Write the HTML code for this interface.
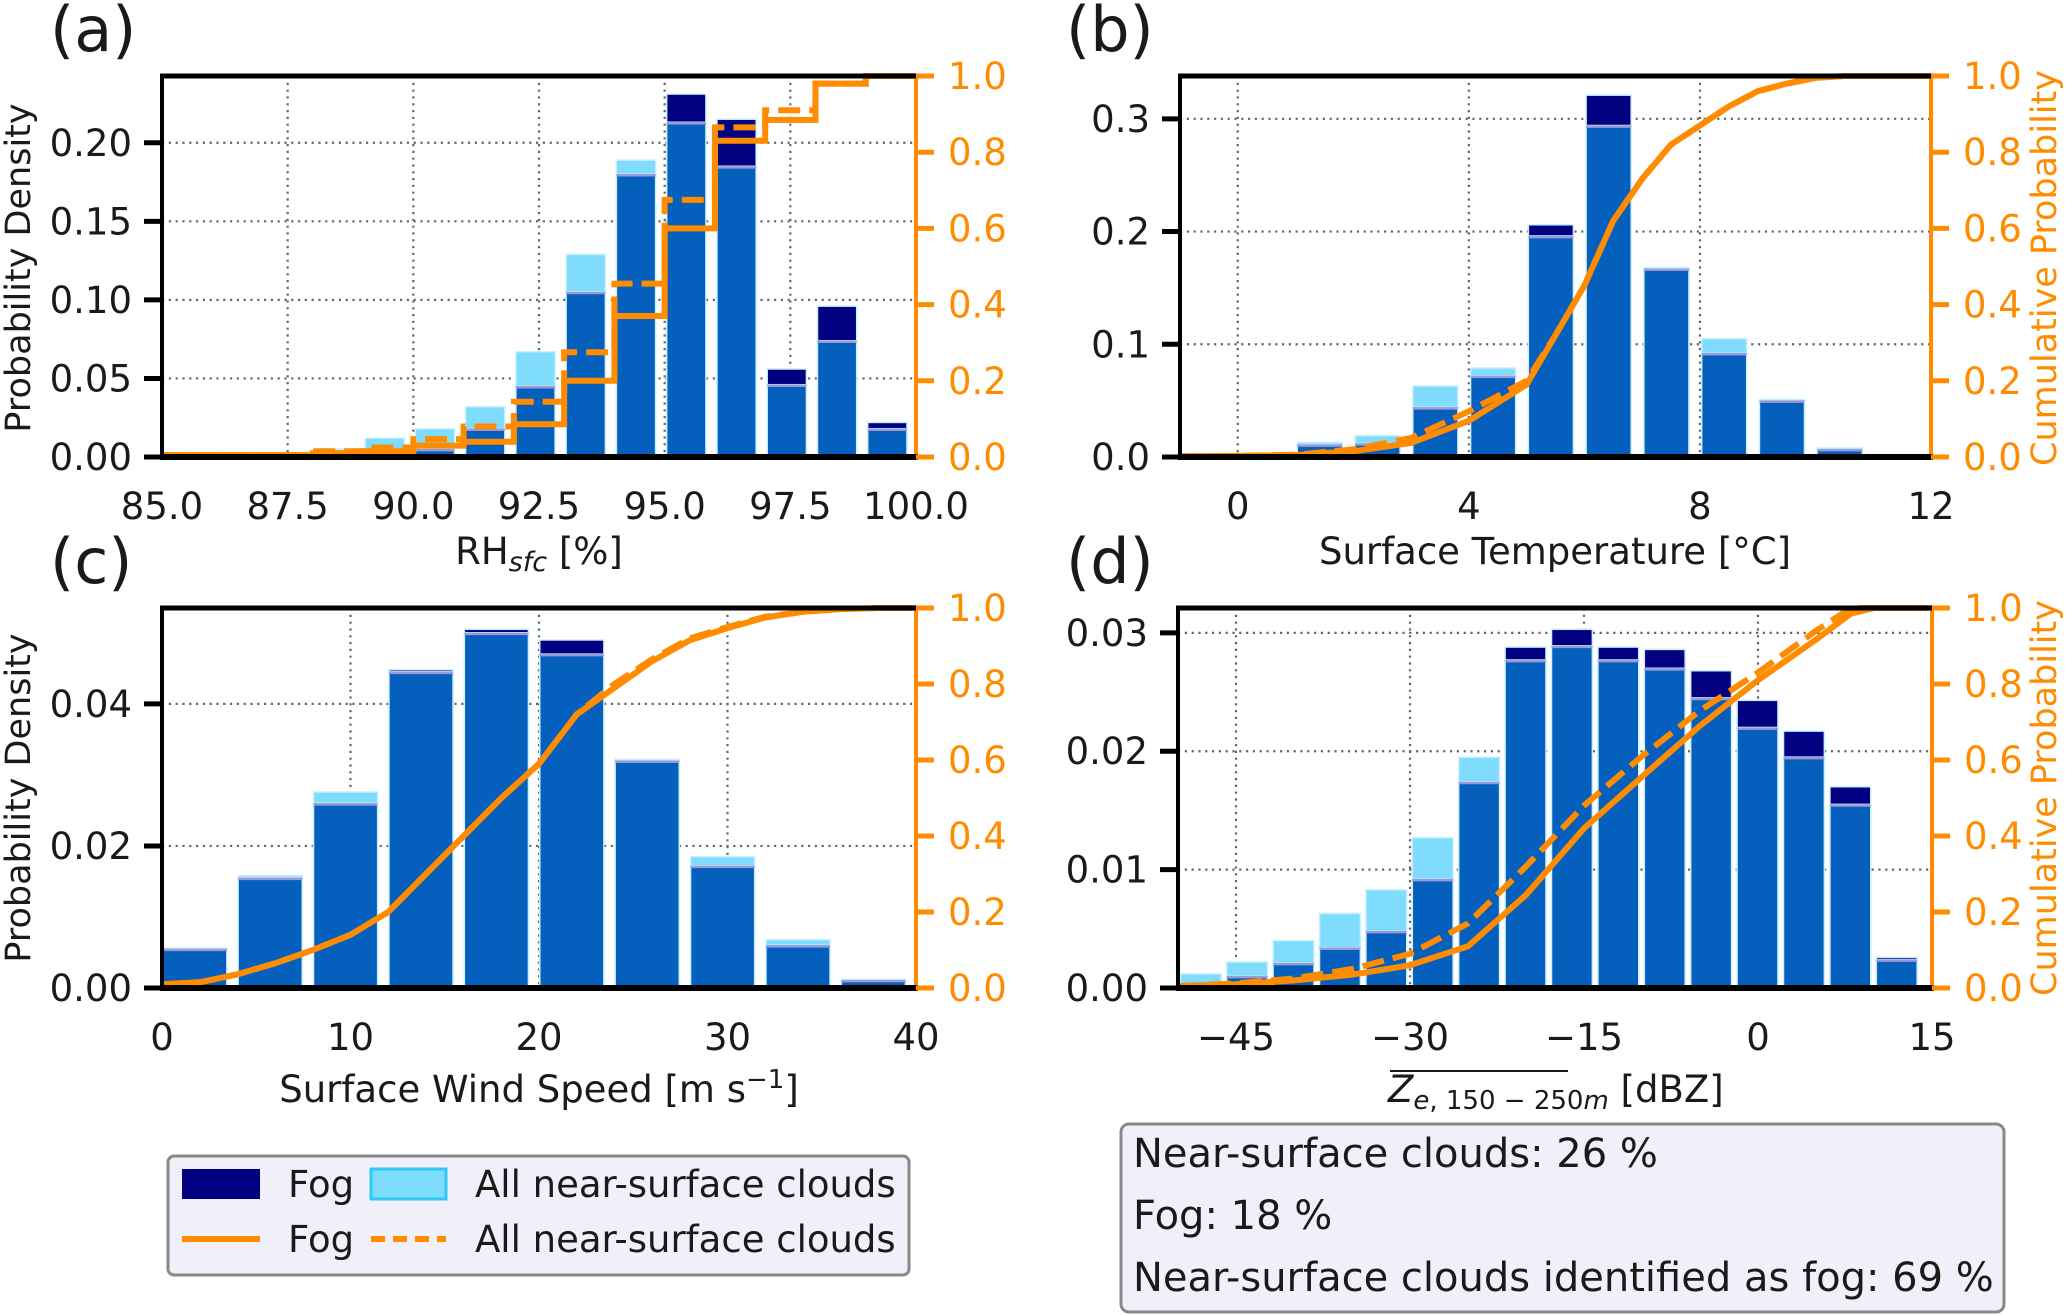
<!DOCTYPE html>
<html><head><meta charset="utf-8"><style>
html,body{margin:0;padding:0;background:#fff;}
svg{display:block;font-family:"DejaVu Sans","Liberation Sans",sans-serif;}
</style></head><body>
<svg id="fig" width="2067" height="1315" viewBox="0 0 2067 1315" xmlns="http://www.w3.org/2000/svg"></svg>
<script>
// ---- Panel (a): RH_sfc ----
const aBins = [88,89,90,91,92,93,94,95,96,97,98,99];
const aFog = [0.003,0.003,0.005,0.018,0.045,0.105,0.180,0.231,0.215,0.056,0.096,0.022];
const aAll = [0.005,0.012,0.018,0.032,0.067,0.129,0.189,0.213,0.185,0.046,0.074,0.018];
const aCdfX = [85,88,89,90,91,92,93,94,95,96,97,98,99,100];
const aCdfFog = [0.005,0.01,0.015,0.03,0.04,0.086,0.2,0.37,0.6,0.83,0.885,0.98,1.0,1.0];
const aCdfAll = [0.005,0.015,0.025,0.047,0.08,0.145,0.275,0.455,0.675,0.865,0.91,0.98,1.0,1.0];
const aXTicks = ["85.0","87.5","90.0","92.5","95.0","97.5","100.0"];
const aYTicks = ["0.00","0.05","0.10","0.15","0.20"];
// ---- Panel (b): Surface temperature ----
const bBins = [1,2,3,4,5,6,7,8,9,10];
const bFog = [0.011,0.012,0.044,0.072,0.206,0.321,0.167,0.092,0.051,0.007];
const bAll = [0.013,0.019,0.063,0.079,0.196,0.294,0.168,0.105,0.050,0.008];
const bCdfX = [-1,0,1,2,3,4,5,5.5,6,6.5,7,7.5,8,8.5,9,9.5,10,10.5,11,12];
const bCdfFog = [0.002,0.003,0.005,0.015,0.037,0.095,0.19,0.32,0.45,0.62,0.73,0.82,0.87,0.92,0.96,0.98,0.995,1,1,1];
const bCdfAll = [0.002,0.003,0.006,0.02,0.05,0.12,0.2,0.32,0.45,0.62,0.73,0.82,0.87,0.92,0.96,0.98,0.995,1,1,1];
const bXTicks = ["0","4","8","12"];
const bYTicks = ["0.0","0.1","0.2","0.3"];
// ---- Panel (c): wind speed ----
const cBins = [0,4,8,12,16,20,24,28,32,36];
const cFog = [0.0055,0.0155,0.0260,0.0448,0.0505,0.0490,0.0320,0.0172,0.0060,0.0011];
const cAll = [0.0056,0.0158,0.0276,0.0445,0.0500,0.0470,0.0322,0.0185,0.0068,0.0012];
const cCdfX = [0,2,4,6,8,10,12,14,16,18,20,22,24,26,28,30,32,34,36,38,40];
const cCdfFog = [0.01,0.015,0.036,0.065,0.10,0.14,0.2,0.3,0.4,0.5,0.59,0.72,0.79,0.86,0.915,0.947,0.975,0.99,0.997,1,1];
const cCdfAll = [0.01,0.015,0.036,0.065,0.10,0.14,0.2,0.3,0.4,0.5,0.59,0.72,0.8,0.865,0.92,0.95,0.977,0.99,0.997,1,1];
const cXTicks = ["0","10","20","30","40"];
const cYTicks = ["0.00","0.02","0.04"];
// ---- Panel (d): reflectivity ----
const dBins = [-50,-46,-42,-38,-34,-30,-26,-22,-18,-14,-10,-6,-2,2,6,10];
const dFog = [0.0003,0.0010,0.0021,0.0034,0.0048,0.0092,0.0174,0.0288,0.0303,0.0288,0.0286,0.0268,0.0243,0.0217,0.0170,0.0026];
const dAll = [0.0012,0.0022,0.0040,0.0063,0.0083,0.0127,0.0195,0.0277,0.0289,0.0277,0.0270,0.0245,0.0220,0.0195,0.0155,0.0024];
const dCdfX = [-50,-45,-40,-35,-30,-25,-20,-15,-10,-5,0,5,8,10,15];
const dCdfFog = [0.005,0.01,0.02,0.035,0.06,0.11,0.245,0.42,0.556,0.69,0.81,0.917,0.985,1,1];
const dCdfAll = [0.005,0.012,0.025,0.05,0.09,0.17,0.32,0.48,0.61,0.73,0.83,0.94,1,1,1];
const dXTicks = ["\u221245","\u221230","\u221215","0","15"];
const dYTicks = ["0.00","0.01","0.02","0.03"];
const rTicks = ["0.0","0.2","0.4","0.6","0.8","1.0"];

const NS = "http://www.w3.org/2000/svg";
const svg = document.getElementById('fig');
function mk(tag, attrs, parent){
  const e = document.createElementNS(NS, tag);
  for (const k in attrs) e.setAttribute(k, attrs[k]);
  (parent||svg).appendChild(e);
  return e;
}
const ORANGE = "#ff8c00", NAVY = "#000080", MID = "#055fbd", LIGHT = "#80dcfc";
const FS = 37;

function panel(cfg){
  const g = mk('g', {});
  
  
  const L=cfg.L,R=cfg.R,T=cfg.T,B=cfg.B;
  const sx = v => L + (v - cfg.xmin)/(cfg.xmax - cfg.xmin)*(R-L);
  const sy = v => B - v/cfg.ymax*(B-T);
  const sr = v => B - v*(B-T);
  cfg.xTicks.forEach(t=>{
    const v = parseFloat(t.replace('\u2212','-'));
    if (v<=cfg.xmin || v>=cfg.xmax) return;
    const l = mk('line',{x1:sx(v),x2:sx(v),y1:T,y2:B,stroke:'#666','stroke-width':2.2,'stroke-dasharray':'2.2 4.6'},g);
    
    
  });
  cfg.yTicks.forEach(t=>{
    const v = parseFloat(t);
    if (v<=0) return;
    const l = mk('line',{x1:L,x2:R,y1:sy(v),y2:sy(v),stroke:'#666','stroke-width':2.2,'stroke-dasharray':'2.2 4.6'},g);
    
    
  });
  cfg.bins.forEach((b,i)=>{
    const f = cfg.fog[i], a = cfg.all[i];
    const x0 = sx(b + cfg.off*cfg.bw), x1 = sx(b + (cfg.off+cfg.frac)*cfg.bw);
    const w = x1-x0, lo = Math.min(f,a), hi = Math.max(f,a);
    const top = mk('rect',{x:x0,y:sy(hi),width:w,height:sy(lo)-sy(hi),fill:(f>a?NAVY:LIGHT),stroke:'#c8f0ff','stroke-width':1.5},g);
    
    
    const bot = mk('rect',{x:x0,y:sy(lo),width:w,height:B-sy(lo),fill:MID,stroke:'#c8f0ff','stroke-width':1.5},g);
    
    
    const ln = mk('line',{x1:x0,x2:x1,y1:sy(lo)+1,y2:sy(lo)+1,stroke:'#9a9ad8','stroke-width':2.5},g);
    
    
  });
  function cdfPath(xs, ys){
    let d='';
    for(let i=0;i<xs.length;i++){
      const X=sx(xs[i]), Y=sr(ys[i]);
      if(i===0) d+='M'+X+' '+Y;
      else if(cfg.step) d+=' L'+X+' '+sr(ys[i-1])+' L'+X+' '+Y;
      else d+=' L'+X+' '+Y;
    }
    return d;
  }
  const pa = mk('path',{d:cdfPath(cfg.cdfX,cfg.cdfAll),fill:'none',stroke:ORANGE,'stroke-width':6,'stroke-dasharray':'22 9'},g);
  
  
  const pf = mk('path',{d:cdfPath(cfg.cdfX,cfg.cdfFog),fill:'none',stroke:ORANGE,'stroke-width':6},g);
  
  
  const sl = mk('line',{x1:L,x2:L,y1:T,y2:B,stroke:'#000','stroke-width':4},g);
   
  const sR = mk('line',{x1:R,x2:R,y1:T,y2:B,stroke:ORANGE,'stroke-width':4},g);
   
  const st = mk('line',{x1:L-2,x2:R+2,y1:T,y2:T,stroke:'#000','stroke-width':5},g);
   
  const sb = mk('line',{x1:L-2,x2:R+2,y1:B,y2:B,stroke:'#000','stroke-width':6},g);
   
  cfg.yTicks.forEach(t=>{
    const v=parseFloat(t);
    const tk = mk('line',{x1:L-18,x2:L,y1:sy(v),y2:sy(v),stroke:'#000','stroke-width':5},g);
     
    const tx = mk('text',{x:L-30,y:sy(v)+13,'text-anchor':'end','font-size':FS,fill:'#1a1a1a'},g);
    tx.textContent=t;
     
  });
  rTicks.forEach(t=>{
    const v=parseFloat(t);
    const tk = mk('line',{x1:R,x2:R+18,y1:sr(v),y2:sr(v),stroke:ORANGE,'stroke-width':5},g);
     
    const tx = mk('text',{x:R+32,y:sr(v)+13,'text-anchor':'start','font-size':FS,fill:ORANGE},g);
    tx.textContent=t;
     
  });
  cfg.xTicks.forEach(t=>{
    const v=parseFloat(t.replace('\u2212','-'));
    const tx = mk('text',{x:sx(v),y:B+62,'text-anchor':'middle','font-size':FS,fill:'#1a1a1a'},g);
    tx.textContent=t;
     
  });
  const pl = mk('text',{x:cfg.plx,y:T-25,'font-size':62,fill:'#1a1a1a'},g);
  pl.textContent='('+cfg.id+')';
   
  return g;
}

panel({id:'a',L:162,R:916,T:76,B:457,xmin:85,xmax:100,ymax:0.2425,bins:aBins,fog:aFog,all:aAll,bw:1,off:0.04,frac:0.78,cdfX:aCdfX,cdfFog:aCdfFog,cdfAll:aCdfAll,step:true,xTicks:aXTicks,yTicks:aYTicks,plx:50});
panel({id:'b',L:1180,R:1931,T:76,B:457,xmin:-1,xmax:12,ymax:0.338,bins:bBins,fog:bFog,all:bAll,bw:1,off:0.03,frac:0.78,cdfX:bCdfX,cdfFog:bCdfFog,cdfAll:bCdfAll,step:false,xTicks:bXTicks,yTicks:bYTicks,plx:1066});
panel({id:'c',L:162,R:916,T:608,B:988,xmin:0,xmax:40,ymax:0.0535,bins:cBins,fog:cFog,all:cAll,bw:4,off:0.01,frac:0.85,cdfX:cCdfX,cdfFog:cCdfFog,cdfAll:cCdfAll,step:false,xTicks:cXTicks,yTicks:cYTicks,plx:50});
panel({id:'d',L:1178,R:1932,T:608,B:988,xmin:-50,xmax:15,ymax:0.0321,bins:dBins,fog:dFog,all:dAll,bw:4,off:0.05,frac:0.88,cdfX:dCdfX,cdfFog:dCdfFog,cdfAll:dCdfAll,step:false,xTicks:dXTicks,yTicks:dYTicks,plx:1066});
</script>
<script>
const svg2 = document.getElementById('fig');
svg2.insertAdjacentHTML('beforeend', `
<text transform="translate(30,268) rotate(-90)" text-anchor="middle" font-size="35" fill="#1a1a1a">Probability Density</text>
<text transform="translate(30,798) rotate(-90)" text-anchor="middle" font-size="35" fill="#1a1a1a">Probability Density</text>
<text transform="translate(2056,268) rotate(-90)" text-anchor="middle" font-size="35" fill="#ff8c00">Cumulative Probability</text>
<text transform="translate(2056,798) rotate(-90)" text-anchor="middle" font-size="35" fill="#ff8c00">Cumulative Probability</text>
<text x="539" y="564" text-anchor="middle" font-size="37" fill="#1a1a1a">RH<tspan font-style="italic" font-size="27" dy="7">sfc</tspan><tspan dy="-7"> [%]</tspan></text>
<text x="1555" y="564" text-anchor="middle" font-size="37" fill="#1a1a1a">Surface Temperature [°C]</text>
<text x="539" y="1102" text-anchor="middle" font-size="37" fill="#1a1a1a">Surface Wind Speed [m s<tspan font-size="26" dy="-14">−1</tspan><tspan dy="14">]</tspan></text>
<g>
<line x1="1390" x2="1568" y1="1071" y2="1071" stroke="#1a1a1a" stroke-width="2"/>
<text x="1388" y="1102" font-size="37" fill="#1a1a1a"><tspan font-style="italic">Z</tspan><tspan font-size="26" dy="7"><tspan font-style="italic">e</tspan>, 150 − 250<tspan font-style="italic">m</tspan></tspan><tspan dy="-7"> [dBZ]</tspan></text>
</g>
<g>
<rect x="168" y="1156" width="741" height="119" rx="6" fill="#f0f0fa" stroke="#888" stroke-width="3"/>
<rect x="182" y="1169" width="78" height="30" fill="#000080"/>
<text x="288" y="1197" font-size="37" fill="#1a1a1a">Fog</text>
<rect x="371" y="1169" width="75" height="30" fill="#80dcfc" stroke="#30c8f8" stroke-width="3"/>
<text x="475" y="1197" font-size="37" fill="#1a1a1a">All near-surface clouds</text>
<line x1="182" x2="260" y1="1239" y2="1239" stroke="#ff8c00" stroke-width="6"/>
<text x="288" y="1252" font-size="37" fill="#1a1a1a">Fog</text>
<line x1="371" x2="446" y1="1239" y2="1239" stroke="#ff8c00" stroke-width="6" stroke-dasharray="14 8"/>
<text x="475" y="1252" font-size="37" fill="#1a1a1a">All near-surface clouds</text>
</g>
<g>
<rect x="1121" y="1124" width="883" height="188" rx="8" fill="#f0f0fa" stroke="#888" stroke-width="3"/>
<text x="1133" y="1167" font-size="40" fill="#1a1a1a">Near-surface clouds: 26 %</text>
<text x="1133" y="1229" font-size="40" fill="#1a1a1a">Fog: 18 %</text>
<text x="1133" y="1291" font-size="40" fill="#1a1a1a">Near-surface clouds identified as fog: 69 %</text>
</g>`);
</script>
</body></html>
